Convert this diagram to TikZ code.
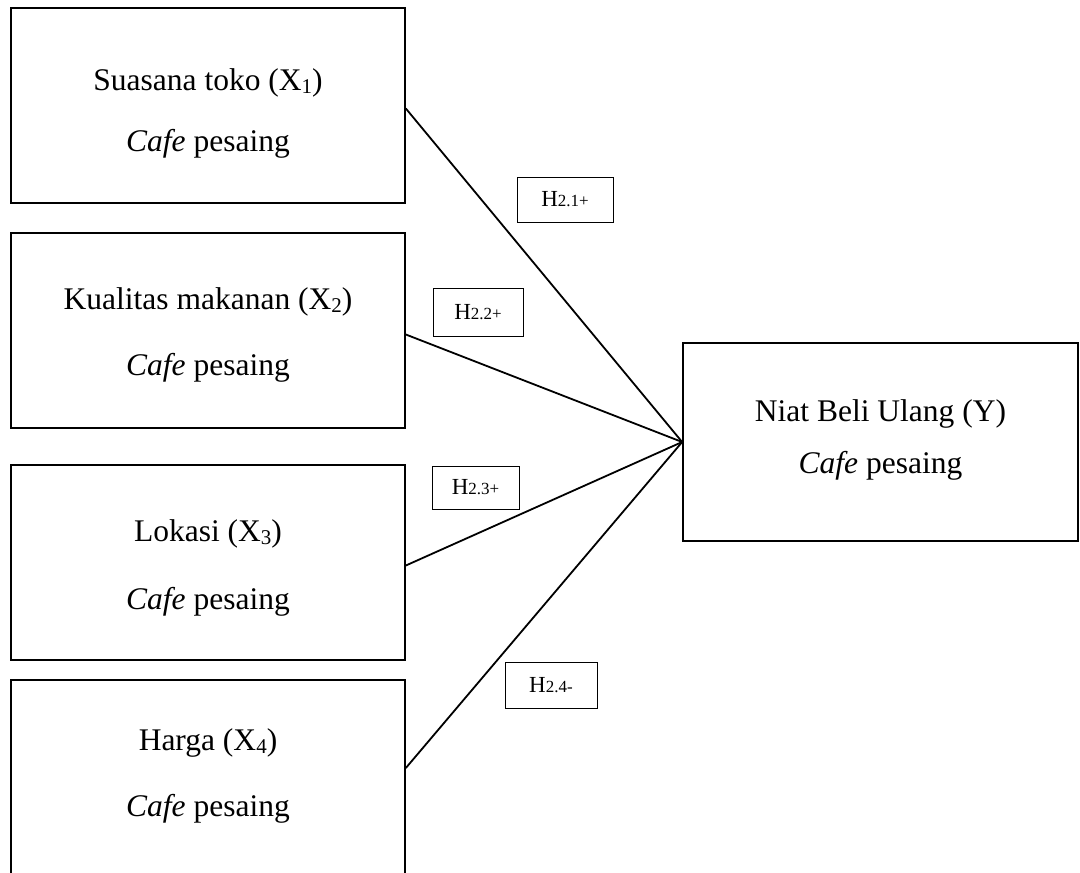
\documentclass[tikz,border=0pt]{standalone}
\usepackage{fontspec}
\setmainfont{Liberation Serif}
\newcommand{\xsub}[1]{\raisebox{-0.12em}{\fontsize{21}{21}\selectfont #1}}
\newcommand{\hyp}[1]{H{\fontsize{17}{17}\selectfont #1}}

\begin{document}
\begin{tikzpicture}[x=1pt,y=-1pt,
    box/.style={rectangle,draw,line width=1.7pt,minimum width=394pt,minimum height=195pt,inner sep=0pt},
    txt/.style={anchor=base,inner sep=0pt,font=\fontsize{31.5}{36}\selectfont},
    hbox/.style={rectangle,draw,line width=0.9pt,minimum width=90pt,minimum height=45pt,inner sep=0pt,font=\fontsize{23}{26}\selectfont},
    link/.style={line width=1.8pt}
]
    \useasboundingbox (0,0) rectangle (1080,873);

    \node[box] (x1) at (208,105.5) {};
    \node[txt] (x1t) at (208,90) {Suasana toko (X\xsub{1})};
    \node[txt] (x1c) at (208,151) {\textit{Cafe} pesaing};

    \node[box] (x2) at (208,330.5) {};
    \node[txt] (x2t) at (208,309) {Kualitas makanan (X\xsub{2})};
    \node[txt] (x2c) at (208,375) {\textit{Cafe} pesaing};

    \node[box] (x3) at (208,562.5) {};
    \node[txt] (x3t) at (208,541) {Lokasi (X\xsub{3})};
    \node[txt] (x3c) at (208,609) {\textit{Cafe} pesaing};

    \node[box,minimum height=200pt] (x4) at (208,780) {};
    \node[txt] (x4t) at (208,750) {Harga (X\xsub{4})};
    \node[txt] (x4c) at (208,816) {\textit{Cafe} pesaing};

    \node[box,minimum width=395pt,minimum height=198pt] (y) at (880.5,442) {};
    \node[txt] (yt) at (880.5,421) {Niat Beli Ulang (Y)};
    \node[txt] (yc) at (880.5,473) {\textit{Cafe} pesaing};

    \draw[link] ([yshift=-3pt]x1.east) -- (y.west);
    \draw[link] ([yshift=-4pt]x2.east) -- (y.west);
    \draw[link] ([yshift=-3pt]x3.east) -- (y.west);
    \draw[link] ([yshift=12pt]x4.east) -- (y.west);

    \node[hbox,minimum width=96pt] (h1) at (565,199.5) {\hyp{2.1+}};
    \node[hbox,minimum height=48pt] (h2) at (478,312.5) {\hyp{2.2+}};
    \node[hbox,minimum width=87pt,minimum height=43pt] (h3) at (475.5,487.5) {\hyp{2.3+}};
    \node[hbox,minimum width=92pt,minimum height=46pt] (h4) at (551,685) {\hyp{2.4-}};
\end{tikzpicture}
\end{document}
